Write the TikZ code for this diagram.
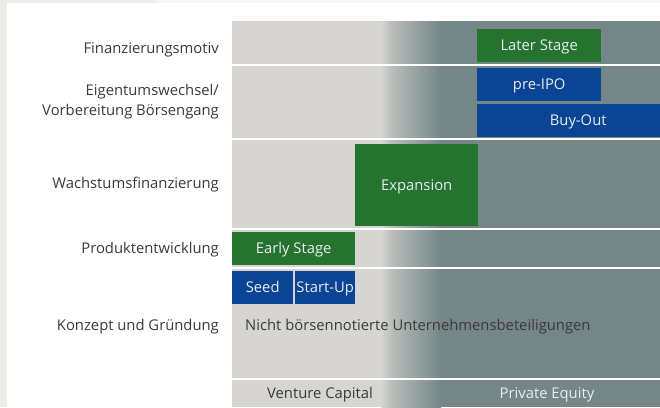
\documentclass[tikz,border=0pt]{standalone}
\usepackage{fontspec}
\setmainfont{Open Sans}
\definecolor{frame}{HTML}{EBEDE8}
\definecolor{frametop}{HTML}{F5F5F3}
\definecolor{lightbg}{HTML}{D6D5D1}
\definecolor{midbg}{HTML}{B9BCBA}
\definecolor{darkbg}{HTML}{748687}
\definecolor{boxgreen}{HTML}{267330}
\definecolor{boxblue}{HTML}{0B4395}
\definecolor{labeltext}{HTML}{3A3A3A}
\definecolor{boxtext}{HTML}{E8EEF0}
\tikzset{
  txt/.style={font=\fontsize{14.8}{20}\selectfont, inner sep=0pt, text height=11.5pt, text depth=1pt},
  rowlabel/.style={txt, text=labeltext, anchor=east, align=right},
  stagebox/.style={txt, text=boxtext, minimum height=33pt, anchor=north west},
  greenbox/.style={stagebox, fill=boxgreen},
  bluebox/.style={stagebox, fill=boxblue},
  sepline/.style={draw=white, line width=2pt},
}
\begin{document}
\begin{tikzpicture}[x=1pt,y=-1pt]
\useasboundingbox (0,0) rectangle (660,407);
\clip (0,0) rectangle (660,407);
% page frame
\fill[white] (0,0) rectangle (660,407);
\fill[frame] (0,0) rectangle (7,407);
\fill[frame] (0,0) rectangle (155,3);
\fill[frametop] (155,0) rectangle (660,3);
% chart background
\fill[lightbg] (232,21) rectangle (660,407);
\shade[left color=lightbg, right color=midbg] (381,21) rectangle (392,407);
\shade[left color=midbg, right color=darkbg] (392,21) rectangle (441,407);
\fill[darkbg] (441,21) rectangle (660,407);
% separators
\coordinate (s1l) at (232,64.5); \coordinate (s1r) at (660,64.5);
\coordinate (s2l) at (232,138.5); \coordinate (s2r) at (660,138.5);
\coordinate (s3l) at (232,228.5); \coordinate (s3r) at (660,228.5);
\coordinate (s4l) at (232,267.5); \coordinate (s4r) at (660,267.5);
\coordinate (s5l) at (232,378.5); \coordinate (s5r) at (660,378.5);
\draw[sepline] (s1l) -- (s1r);
\draw[sepline] (s2l) -- (s2r);
\draw[sepline] (s3l) -- (s3r);
\draw[sepline] (s4l) -- (s4r);
\draw[sepline] (s5l) -- (s5r);
% row labels
\node[rowlabel] (l1) at (219,48) {Finanzierungsmotiv};
\node[rowlabel] (l2) at (219,110) {Eigentumswechsel/\\Vorbereitung Börsengang};
\node[rowlabel] (l3) at (219,183) {Wachstumsfinanzierung};
\node[rowlabel] (l4) at (219,248) {Produktentwicklung};
\node[rowlabel] (l5) at (219,325) {Konzept und Gründung};
% stage boxes
\node[greenbox, minimum width=124pt] (later) at (477,29) {Later Stage};
\node[bluebox, minimum width=124pt] (preipo) at (477,68) {pre-IPO};
\node[bluebox, minimum width=202pt] (buyout) at (477,104) {Buy-Out};
\node[greenbox, minimum width=123pt, minimum height=82.5pt] (expansion) at (355,143.3) {Expansion};
\node[greenbox, minimum width=123pt] (early) at (232,232) {Early Stage};
\node[bluebox, minimum width=61pt] (seed) at (232,271) {Seed};
\node[bluebox, minimum width=60pt] (startup) at (295,271) {Start-Up};
% bottom texts
\node[txt, text=labeltext, anchor=west] (nicht) at (245,325) {Nicht börsennotierte Unternehmensbeteiligungen};
\node[txt, text=labeltext] (vc) at (320,393) {Venture Capital};
\node[txt, text=boxtext] (pe) at (547,393) {Private Equity};
\end{tikzpicture}
\end{document}
